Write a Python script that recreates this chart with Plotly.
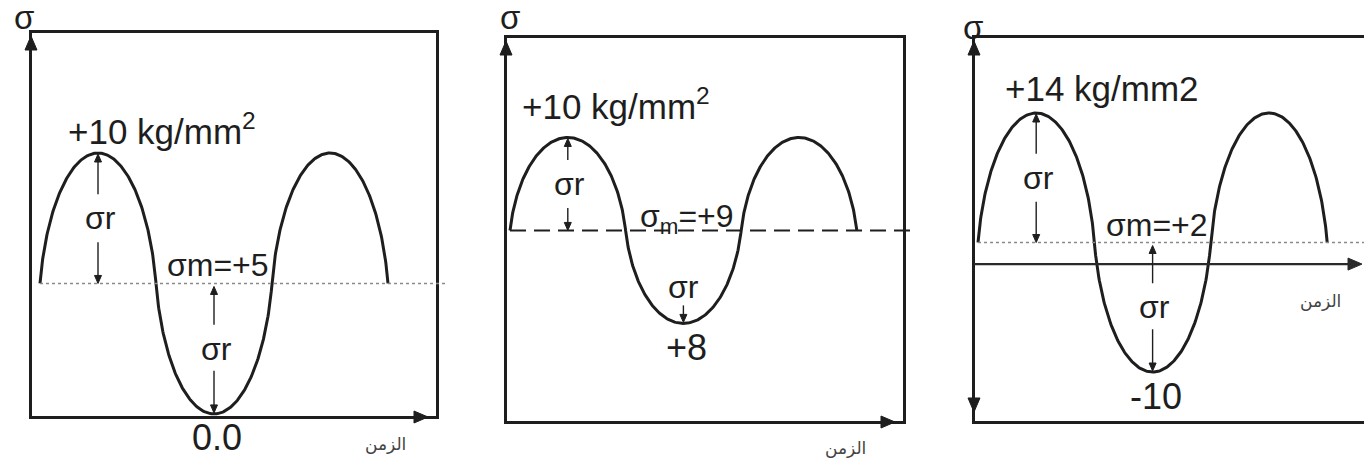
import numpy as np
import plotly.graph_objects as go

# Stress cycles: maximum, minimum and mean stress (kg/mm2)
sigma_max = [10, 10, 14]
sigma_min = [0, 8, -10]
sigma_mean = [5, 9, 2]

max_labels = ["+10 kg/mm<sup>2</sup>", "+10 kg/mm<sup>2</sup>", "+14 kg/mm2"]
min_labels = ["0.0", "+8", "-10"]
mean_labels = ["σm=+5", "σ<sub>m</sub>=+9", "σm=+2"]
range_label = "σr"
stress_label = "σ"
time_label = "الزمن"

W, H = 1364, 469
INK = "#1e1e1e"
FONT = "Liberation Sans, Arial, sans-serif"

# Panel geometry (pixels): box edges, curve start, pixels per quarter period, stress range
panels = [
    dict(left=32, right=436, top=33, bottom=416, x0=40, q=58.0, yr=(-0.08, 14.6),
         right_edge=True, mean_style=dict(color="#8a8a8a", width=1.5, dash="dot"), mean_end=446,
         max_left=66, max_dy=-24, lower_up=True, sig=(24, 18), time=(385, 444)),
    dict(left=507, right=903, top=38, bottom=421, x0=510, q=57.8, yr=(6.95, 11.07),
         right_edge=True, mean_style=dict(color=INK, width=2, dash="16px,8px"), mean_end=913,
         max_left=520, max_dy=-33, lower_up=False, sig=(510, 18), time=(845, 448)),
    dict(left=975, right=1364, top=38, bottom=421, x0=978, q=58.2, yr=(-14.54, 20.95),
         right_edge=False, mean_style=dict(color="#8a8a8a", width=1.5, dash="dot"), mean_end=1364,
         max_left=1003, max_dy=-25, lower_up=True, sig=(973, 28), time=None),
]


def px(xp):
    return xp / W


def py(yp):
    return 1 - yp / H


def ypx(p, v):
    r0, r1 = p["yr"]
    return p["top"] + (r1 - v) / (r1 - r0) * (p["bottom"] - p["top"])


def xpx(p, t):
    return p["x0"] + p["q"] * t


def cycle_curve(smax, smin, smean, n=160, roundness=0.72):
    """One and a half load cycles (time in quarter periods); each half cycle is a
    rounded lobe between a half-ellipse and a half-sine."""
    ts, ys = [], []
    th = np.linspace(0, np.pi, n)
    shape_x = roundness * (1 - np.cos(th)) + (1 - roundness) * (2 * th / np.pi)
    for k in range(3):
        amp = (smax - smean) if k % 2 == 0 else -(smean - smin)
        ts.append(2 * k + shape_x)
        ys.append(smean + amp * np.sin(th))
    return np.concatenate(ts), np.concatenate(ys)


fig = go.Figure()
layout = dict(width=W, height=H, margin=dict(l=0, r=0, t=0, b=0),
              paper_bgcolor="white", plot_bgcolor="white", showlegend=False)
shapes, annotations = [], []


def text(x, y, s, size, color=INK, family=FONT, xanchor="center", yanchor="middle"):
    annotations.append(dict(x=px(x), y=py(y), xref="paper", yref="paper", text=s,
                            showarrow=False, xanchor=xanchor, yanchor=yanchor,
                            font=dict(family=family, size=size, color=color)))


def arrow(hx, hy, tx, ty, width=1.4, head=8.0, half=3.5, color=INK, line=True):
    """Straight arrow from tail (tx, ty) to head (hx, hy), in pixels."""
    dx, dy = hx - tx, hy - ty
    d = np.hypot(dx, dy)
    ux, uy = dx / d, dy / d
    bx, by = hx - ux * head, hy - uy * head
    if line:
        shapes.append(dict(type="line", xref="paper", yref="paper",
                           x0=px(tx), y0=py(ty), x1=px(bx + ux), y1=py(by + uy),
                           line=dict(color=color, width=width)))
    pts = [(hx, hy), (bx - uy * half, by + ux * half), (bx + uy * half, by - ux * half)]
    path = "M " + " L ".join(f"{px(a):.6f},{py(b):.6f}" for a, b in pts) + " Z"
    shapes.append(dict(type="path", xref="paper", yref="paper", path=path,
                       fillcolor=color, line=dict(color=color, width=1)))


for i, p in enumerate(panels):
    n = "" if i == 0 else str(i + 1)
    smax, smin, smean = sigma_max[i], sigma_min[i], sigma_mean[i]

    t, y = cycle_curve(smax, smin, smean)
    fig.add_trace(go.Scatter(x=t, y=y, mode="lines", xaxis="x" + n, yaxis="y" + n,
                             line=dict(color=INK, width=3), hoverinfo="skip"))

    axis_common = dict(showline=True, linecolor=INK, linewidth=3, showgrid=False,
                       zeroline=False, showticklabels=False, ticks="", fixedrange=True)
    layout["xaxis" + n] = dict(axis_common, domain=[px(p["left"]), px(p["right"])],
                               range=[(p["left"] - p["x0"]) / p["q"], (p["right"] - p["x0"]) / p["q"]],
                               mirror=True, anchor="y" + n)
    layout["yaxis" + n] = dict(axis_common, domain=[py(p["bottom"]), py(p["top"])],
                               range=list(p["yr"]), mirror=p["right_edge"], anchor="x" + n)

    # mean stress line
    ym = ypx(p, smean)
    shapes.append(dict(type="line", xref="paper", yref="paper",
                       x0=px(xpx(p, 0)), x1=px(p["mean_end"]), y0=py(ym), y1=py(ym),
                       line=p["mean_style"]))

    # axis arrowheads
    L, B, T = p["left"] - 1, p["bottom"] + 1, p["top"]
    arrow(L, T + 3, L, T + 30, head=14, half=6, line=False)
    if i < 2:
        arrow(p["right"] - 8, B, p["right"] - 40, B, head=14, half=6, line=False)
    else:
        arrow(L, B - 10, L, B - 40, head=14, half=6, line=False)
        y0 = ypx(p, 0)
        arrow(1362, y0, L, y0, width=2.2, head=14, half=6, color="#2a2a2a")

    xp_peak, xp_trough = xpx(p, 1), xpx(p, 3)
    yp_max, yp_min = ypx(p, smax), ypx(p, smin)

    # stress range above the mean
    mid = (yp_max + ym) / 2
    arrow(xp_peak, yp_max + 1, xp_peak, mid - 24)
    arrow(xp_peak, ym, xp_peak, mid + 24)
    text(xp_peak + 2, mid, range_label, 32)

    # stress range below the mean
    if p["lower_up"]:
        midl = (ym + yp_min) / 2
        arrow(xp_trough, ym + 3, xp_trough, midl - 24)
        arrow(xp_trough, yp_min - 1, xp_trough, midl + 22)
        text(xp_trough + 2, midl, range_label, 32)
    else:
        arrow(xp_trough, yp_min - 1, xp_trough, yp_min - 18)
        text(xp_trough, yp_min - 36, range_label, 32)

    # value labels
    text(p["max_left"], yp_max + p["max_dy"], max_labels[i], 35, xanchor="left")
    text(xp_trough + 4, ym - (12 if i == 1 else 18), mean_labels[i], 32)
    text(xp_trough + 3, yp_min + 24, min_labels[i], 36)

    # axis names
    text(p["sig"][0], p["sig"][1], stress_label, 33)
    tpos = p["time"] if p["time"] else (1320, ypx(p, 0) + 37)
    text(tpos[0], tpos[1], time_label, 17, color="#444444", family="DejaVu Sans, sans-serif")

layout["shapes"] = shapes
layout["annotations"] = annotations
fig.update_layout(**layout)
fig.write_html("out.html")
